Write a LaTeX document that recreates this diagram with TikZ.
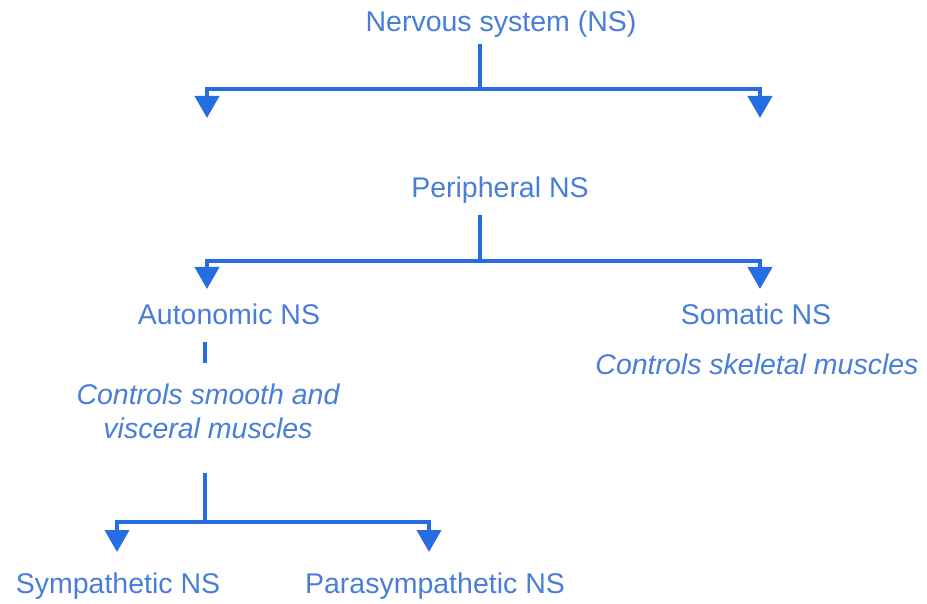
\documentclass[tikz,border=0pt]{standalone}
\usepackage{fontspec}
\setmainfont{Liberation Sans}
\usetikzlibrary{arrows.meta}
\definecolor{txtblue}{RGB}{72,126,218}
\definecolor{lineblue}{RGB}{38,108,226}
\begin{document}
\begin{tikzpicture}[x=1pt,y=-1pt,
  lbl/.style={anchor=base,inner sep=0pt,text=txtblue,font=\fontsize{28.5}{34}\selectfont},
  note/.style={lbl,font=\fontsize{28.5}{34}\selectfont\itshape,align=center},
  conn/.style={draw=lineblue,line width=4pt},
  arr/.style={conn,-{Triangle[width=24pt,length=22pt]}}]
\useasboundingbox (0,0) rectangle (927,604);
% nodes
\node[lbl] (ns) at (501,32) {Nervous system (NS)};
\node[lbl] (pns) at (500,198) {Peripheral NS};
\node[lbl] (ans) at (229,324) {Autonomic NS};
\node[lbl] (sns) at (756,324) {Somatic NS};
\node[note] (sk) at (757,374) {Controls skeletal muscles};
\node[note,anchor=north] (sm) at (208,384) {Controls smooth and\\visceral muscles};
\node[lbl] (sym) at (118,593) {Sympathetic NS};
\node[lbl] (para) at (435,593) {Parasympathetic NS};
% junction coordinates
\coordinate (a0) at (480,44);
\coordinate (a1) at (480,89);
\coordinate (aL) at (207,118);
\coordinate (aR) at (760,118);
\coordinate (b0) at (480,215);
\coordinate (b1) at (480,261);
\coordinate (bL) at (207,289);
\coordinate (bR) at (760,289);
\coordinate (d0) at (205,342);
\coordinate (d1) at (205,363);
\coordinate (c0) at (205,473);
\coordinate (c1) at (205,522);
\coordinate (cL) at (117,552);
\coordinate (cR) at (429,552);
% connectors
\draw[conn] (a0) -- (a1);
\draw[arr] (a1) -| (aL);
\draw[arr] (a1) -| (aR);
\draw[conn] (b0) -- (b1);
\draw[arr] (b1) -| (bL);
\draw[arr] (b1) -| (bR);
\draw[conn] (d0) -- (d1);
\draw[conn] (c0) -- (c1);
\draw[arr] (c1) -| (cL);
\draw[arr] (c1) -| (cR);
\end{tikzpicture}
\end{document}
